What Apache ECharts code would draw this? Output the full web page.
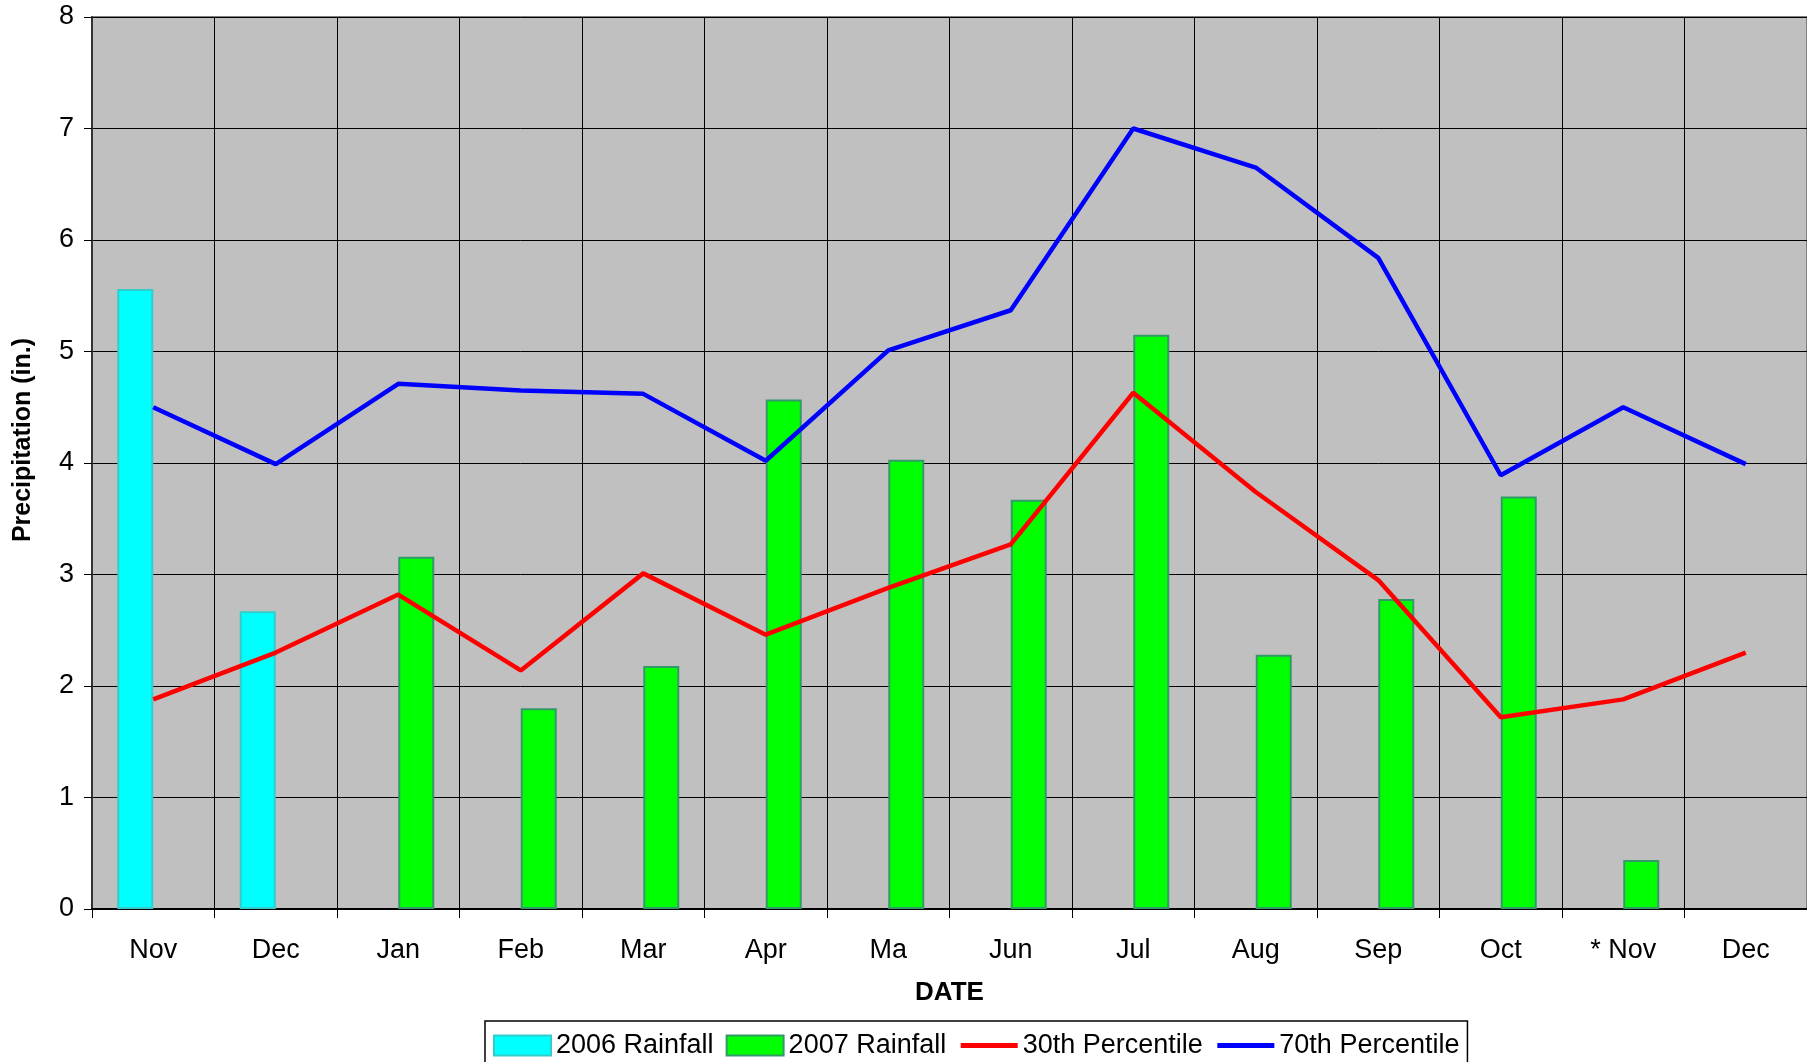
<!DOCTYPE html>
<html><head><meta charset="utf-8">
<script src="https://cdn.jsdelivr.net/npm/echarts@6/dist/echarts.min.js"></script>
<style>html,body{margin:0;padding:0;background:#fff}#c{width:1807px;height:1062px}</style>
</head><body><div id="c"></div>
<script>
const categories = ["Nov","Dec","Jan","Feb","Mar","Apr","Ma","Jun","Jul","Aug","Sep","Oct","* Nov","Dec"];
const rain2006 = [5.56, 2.67, null, null, null, null, null, null, null, null, null, null, null, null];
const rain2007 = [null, null, 3.16, 1.80, 2.18, 4.57, 4.03, 3.67, 5.15, 2.28, 2.78, 3.70, 0.44, null];
const pct30 = [1.88, 2.30, 2.82, 2.14, 3.01, 2.46, 2.88, 3.27, 4.63, 3.74, 2.95, 1.72, 1.88, 2.30];
const pct70 = [4.50, 3.99, 4.71, 4.65, 4.62, 4.02, 5.01, 5.37, 7.00, 6.65, 5.84, 3.89, 4.50, 3.99];
const yTicks = [0,1,2,3,4,5,6,7,8];

const chart = echarts.init(document.getElementById('c'));
const font = 'Liberation Sans, Arial, sans-serif';
chart.setOption({
  animation: false,
  textStyle: {fontFamily: font},
  grid: {left: 92, top: 17, right: 0, bottom: 153, outerBoundsMode: 'none', containLabel: false,
         show: true, backgroundColor: '#C0C0C0', borderColor: '#808080', borderWidth: 2},
  legend: {
    left: 485, top: 1021, itemGap: 12, itemWidth: 57, itemHeight: 20,
    borderColor: '#000', borderWidth: 1.5, padding: [11, 8, 8, 8],
    textStyle: {fontSize: 27, color: '#000', fontFamily: font},
    data: [
      {name: '2006 Rainfall', icon: 'rect'},
      {name: '2007 Rainfall', icon: 'rect'},
      {name: '30th Percentile', itemStyle: {opacity: 0}, lineStyle: {width: 5}},
      {name: '70th Percentile', itemStyle: {opacity: 0}, lineStyle: {width: 5}}
    ]
  },
  xAxis: {
    type: 'category', data: categories, boundaryGap: true,
    name: 'DATE', nameLocation: 'middle', nameGap: 71,
    nameTextStyle: {fontSize: 26, fontWeight: 'bold', color: '#000', fontFamily: font},
    axisLine: {lineStyle: {color: '#000', width: 2}},
    axisTick: {show: true, length: 9, interval: 0, lineStyle: {color: '#000'}},
    axisLabel: {fontSize: 27, color: '#000', margin: 28, interval: 0, fontFamily: font},
    splitLine: {show: true, interval: 0, lineStyle: {color: '#000', width: 1}}
  },
  yAxis: {
    type: 'value', min: yTicks[0], max: yTicks[yTicks.length - 1], interval: 1,
    name: 'Precipitation (in.)', nameLocation: 'middle', nameGap: 56,
    nameTextStyle: {fontSize: 25, fontWeight: 'bold', color: '#000', fontFamily: font, padding: [0, 0, 0, 46]},
    axisLine: {show: true, lineStyle: {color: '#333', width: 2}},
    axisTick: {show: true, length: 8, lineStyle: {color: '#000'}},
    axisLabel: {fontSize: 27, color: '#000', margin: 18, fontFamily: font},
    splitLine: {show: true, lineStyle: {color: '#000', width: 1}}
  },
  series: [
    {name: '2006 Rainfall', type: 'bar', data: rain2006, barWidth: 36, barGap: '0%',
     itemStyle: {color: '#00FFFF', borderColor: '#33CCCC', borderWidth: 2}},
    {name: '2007 Rainfall', type: 'bar', data: rain2007, barWidth: 36, barGap: '0%',
     itemStyle: {color: '#00FF00', borderColor: '#339966', borderWidth: 2}},
    {name: '30th Percentile', type: 'line', data: pct30, symbol: 'none',
     lineStyle: {color: '#FF0000', width: 4.5}, itemStyle: {color: '#FF0000'}},
    {name: '70th Percentile', type: 'line', data: pct70, symbol: 'none',
     lineStyle: {color: '#0000FF', width: 4.5}, itemStyle: {color: '#0000FF'}}
  ]
});
</script></body></html>
